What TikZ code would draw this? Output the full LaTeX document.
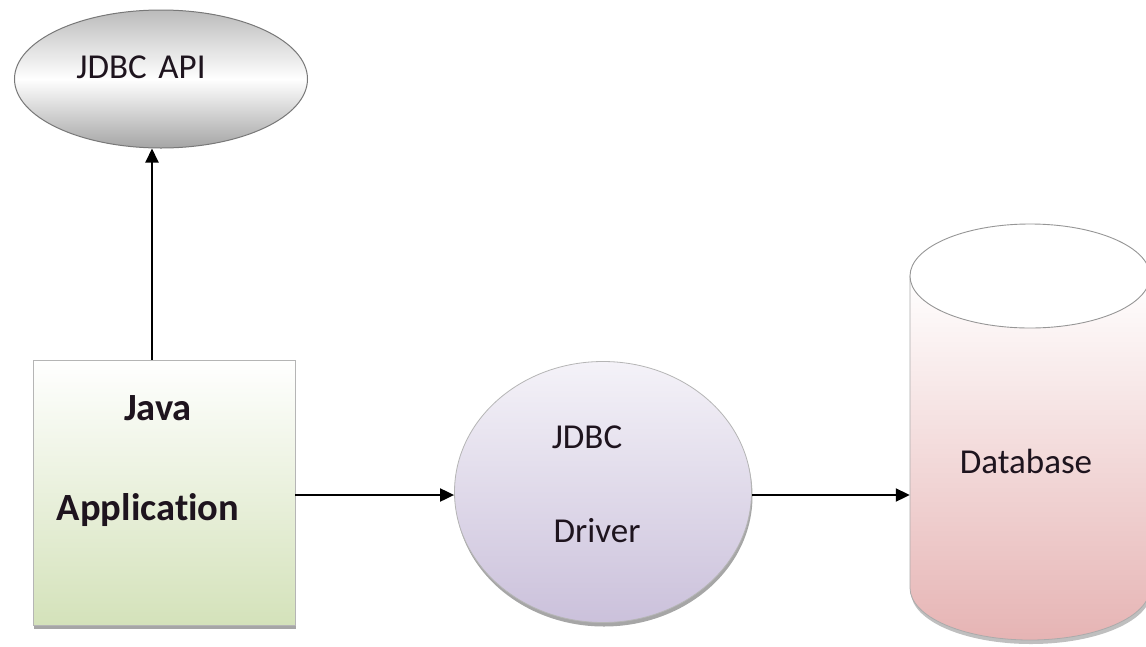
\documentclass[tikz,border=0pt]{standalone}
\usepackage{fontspec}
\setmainfont[Ligatures=NoCommon]{Carlito}
\usetikzlibrary{shapes.geometric,arrows.meta,shadows}
\definecolor{apigray}{RGB}{165,165,165}
\definecolor{appgreen}{RGB}{212,226,186}
\definecolor{drvtop}{RGB}{244,242,248}
\definecolor{drvbot}{RGB}{203,193,219}
\definecolor{dbpink}{RGB}{230,180,180}
\definecolor{edge}{RGB}{150,150,150}
\definecolor{ink}{RGB}{30,20,30}
\begin{document}
\begin{tikzpicture}[x=1pt,y=-1pt,
  arr/.style={line width=2pt, -{Triangle[length=14pt,width=13pt]}},
  lbl/.style={font=\fontsize{35}{40}\selectfont, text=ink, anchor=base, inner sep=0pt},
  boldlbl/.style={lbl, font=\fontsize{38.5}{44}\selectfont\bfseries},
  shad/.style={drop shadow={shadow xshift=1pt, shadow yshift=-4pt, fill=black, opacity=0.35}},
]
\useasboundingbox (0,0) rectangle (1146,646);
\fill[white] (0,0) rectangle (1146,646);

% JDBC API ellipse
\node[ellipse, minimum width=293pt, minimum height=138pt, draw=edge!80!black, line width=1pt,
      top color=apigray!75, bottom color=apigray, middle color=white] (api) at (161,79) {};
\node[lbl] (apitxt) at (141,78) {JDBC\,\,API};

% Java Application box
\node[rectangle, minimum width=262pt, minimum height=265pt, draw=edge!70, line width=0.8pt,
      top color=white, bottom color=appgreen, shad] (box) at (164,492.5) {};
\node[boldlbl] (java) at (158,420) {Java};
\node[boldlbl] (app) at (148,520) {Application};

% JDBC Driver circle
\node[ellipse, minimum width=297pt, minimum height=261pt, draw=edge!70, line width=0.8pt,
      top color=drvtop, bottom color=drvbot, shad] (drv) at (603,492) {};
\node[lbl] (jdbc) at (587,448) {JDBC};
\node[lbl] (driver) at (597,542) {Driver};

% Database cylinder
\begin{scope}
\clip (0,0) rectangle (1146,646);
\fill[black, opacity=0.25] (911,280) -- (911,592) arc[start angle=180, end angle=0, x radius=120, y radius=52] -- (1151,280) -- cycle;
\path[top color=white, bottom color=dbpink, draw=edge!80, line width=0.8pt]
  (910,276) -- (910,588) arc[start angle=180, end angle=0, x radius=120, y radius=52] -- (1150,276) -- cycle;
\draw[edge, line width=0.9pt, fill=white] (1030,276) ellipse [x radius=120, y radius=52];
\end{scope}
\node[minimum width=240pt, minimum height=364pt, inner sep=0pt] (dbbody) at (1030,458) {};
\node[lbl] (db) at (1026,473) {Database};

% connectors
\draw[arr] ([xshift=-12pt]box.north) -- ([xshift=-12pt]box.north |- api.south);
\draw[arr] (box.east |- 0,495) -- (drv.west |- 0,495);
\draw[arr] (drv.east |- 0,495) -- (dbbody.west |- 0,495);
\end{tikzpicture}
\end{document}
